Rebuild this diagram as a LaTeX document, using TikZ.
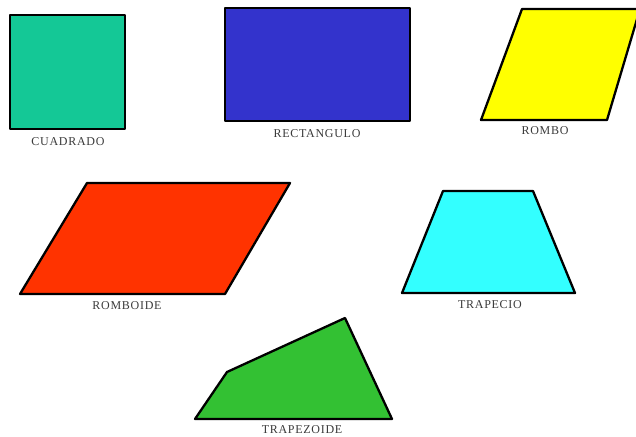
\documentclass[tikz,border=0pt]{standalone}
\usepackage{fontspec}
\setmainfont{Liberation Serif}
\newfontfamily\lblfont[LetterSpace=6]{Liberation Serif}
\definecolor{cteal}{HTML}{14C896}
\definecolor{cblue}{HTML}{3333CC}
\definecolor{cyel}{HTML}{FFFF00}
\definecolor{cred}{HTML}{FF3300}
\definecolor{ccyan}{HTML}{33FFFF}
\definecolor{cgreen}{HTML}{33C133}
\definecolor{ctext}{HTML}{3A3A3A}
\tikzset{
  shapebox/.style={draw=black, line width=2.3pt, line join=round},
  lbl/.style={font=\lblfont\fontsize{12}{13}\selectfont, text=ctext, inner sep=0pt}
}
\begin{document}
\begin{tikzpicture}[x=1pt,y=-1pt]
\useasboundingbox[fill=white] (0,0) rectangle (636,436);
% CUADRADO
\filldraw[shapebox, fill=cteal] (10,15) rectangle (125,129);
\node[lbl] (lcuad) at (68,142) {CUADRADO};
% RECTANGULO
\filldraw[shapebox, fill=cblue] (225,8) rectangle (410,121);
\node[lbl] (lrect) at (317,134) {RECTANGULO};
% ROMBO
\filldraw[shapebox, fill=cyel] (522,9) -- (640,9) -- (607,120) -- (481,120) -- cycle;
\node[lbl] (lrombo) at (545,131) {ROMBO};
% ROMBOIDE
\filldraw[shapebox, fill=cred] (87,183) -- (290,183) -- (225,294) -- (20,294) -- cycle;
\node[lbl] (lromboide) at (127,306) {ROMBOIDE};
% TRAPECIO
\filldraw[shapebox, fill=ccyan] (443,191) -- (533,191) -- (575,293) -- (402,293) -- cycle;
\node[lbl] (ltrap) at (490,305) {TRAPECIO};
% TRAPEZOIDE
\filldraw[shapebox, fill=cgreen] (195,419) -- (227,372) -- (345,318) -- (392,419) -- cycle;
\node[lbl] (ltrapz) at (302,429.5) {TRAPEZOIDE};
\end{tikzpicture}
\end{document}
